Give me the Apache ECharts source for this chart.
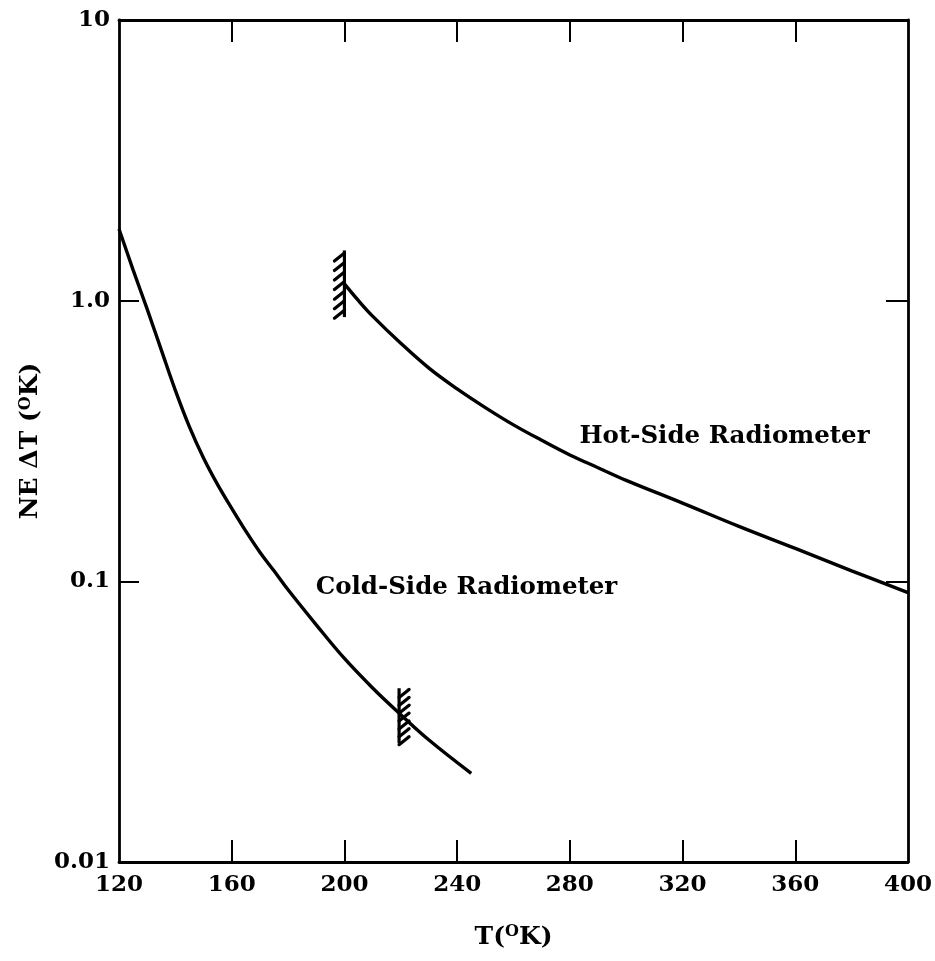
<!DOCTYPE html>
<html>
<head>
<meta charset="utf-8">
<title>NE ΔT vs T</title>
<script src="https://cdn.jsdelivr.net/npm/echarts@6/dist/echarts.min.js"></script>
<style>
  html, body { margin: 0; padding: 0; background: #fff; }
  #chart { width: 935px; height: 961px; }
</style>
</head>
<body>
<div id="chart"></div>
<script>
// Noise-equivalent temperature difference of the two radiometers
const tempCold = [120, 125, 130, 135, 140, 145, 150, 155, 160, 165, 170, 175, 180, 190, 200, 210, 220, 230, 245];
const netdCold = [1.80, 1.288, 0.933, 0.668, 0.479, 0.355, 0.275, 0.221, 0.182, 0.151, 0.127, 0.109, 0.0933, 0.070, 0.0531, 0.0417, 0.0335, 0.0272, 0.0207];

const tempHot = [200, 205, 210, 220, 230, 240, 250, 260, 270, 280, 290, 300, 320, 340, 360, 380, 400];
const netdHot = [1.148, 1.0, 0.881, 0.705, 0.575, 0.485, 0.416, 0.361, 0.318, 0.282, 0.254, 0.229, 0.190, 0.157, 0.131, 0.109, 0.0912];

// Hatched limit markers: [T, lower NE ΔT, upper NE ΔT, side (-1 left, +1 right)]
const limitMarks = [
  [200, 0.874, 1.51, -1],
  [219.4, 0.0265, 0.0416, 1]
];

// Curve labels: [T, NE ΔT, text]
const curveLabels = [
  [189.8, 0.0946, 'Cold-Side Radiometer'],
  [283.4, 0.327, 'Hot-Side Radiometer']
];

const xTicks = [120, 160, 200, 240, 280, 320, 360, 400];
const yTickText = { 0.01: '0.01', 0.1: '0.1', 1: '1.0', 10: '10' };

const serif = 'DejaVu Serif';
const ink = '#000';

function pairs(xs, ys) { return xs.map((x, i) => [x, ys[i]]); }

const chart = echarts.init(document.getElementById('chart'), null, { renderer: 'canvas' });

const axisLineStyle = { lineStyle: { color: ink, width: 2.8 } };

chart.setOption({
  backgroundColor: '#fff',
  animation: false,
  grid: { left: 119, right: 25, top: 20, bottom: 99, containLabel: false },
  xAxis: [
    {
      type: 'value', position: 'bottom', min: 120, max: 400, interval: 40,
      axisLine: axisLineStyle,
      axisTick: { inside: true, length: 22, lineStyle: { color: ink, width: 2 },
                  customValues: xTicks.slice(1, -1) },
      axisLabel: { color: ink, fontFamily: serif, fontWeight: 'bold', fontSize: 23, margin: 12,
                   customValues: xTicks },
      splitLine: { show: false },
      name: '{a|T(}{sup|O}{a|K)}', nameLocation: 'middle', nameGap: 62,
      nameTextStyle: {
        rich: {
          a: { fontFamily: serif, fontWeight: 'bold', fontSize: 25, color: ink },
          sup: { fontFamily: serif, fontWeight: 'bold', fontSize: 16, color: ink, verticalAlign: 'top', padding: [0, 0, 10, 0] }
        }
      }
    },
    {
      type: 'value', position: 'top', min: 120, max: 400, interval: 40,
      axisLine: axisLineStyle,
      axisTick: { inside: true, length: 22, lineStyle: { color: ink, width: 2 },
                  customValues: xTicks.slice(1, -1) },
      axisLabel: { show: false },
      splitLine: { show: false }
    }
  ],
  yAxis: [
    {
      type: 'log', logBase: 10, min: 0.01, max: 10, position: 'left',
      axisLine: axisLineStyle,
      axisTick: { inside: true, length: 20, lineStyle: { color: ink, width: 2 }, customValues: [0.1, 1] },
      axisLabel: { color: ink, fontFamily: serif, fontWeight: 'bold', fontSize: 23, margin: 9,
                   customValues: [0.01, 0.1, 1, 10],
                   formatter: v => yTickText[+v.toPrecision(3)] || String(v) },
      splitLine: { show: false },
      minorTick: { show: false },
      name: '{a|NE ΔT (}{sup|O}{a|K)}', nameLocation: 'middle', nameGap: 75, nameRotate: 90,
      nameTextStyle: {
        rich: {
          a: { fontFamily: serif, fontWeight: 'bold', fontSize: 25, color: ink },
          sup: { fontFamily: serif, fontWeight: 'bold', fontSize: 16, color: ink, verticalAlign: 'top', padding: [0, 0, 10, 0] }
        }
      }
    },
    {
      type: 'log', logBase: 10, min: 0.01, max: 10, position: 'right',
      axisLine: axisLineStyle,
      axisTick: { inside: true, length: 22, lineStyle: { color: ink, width: 2 }, customValues: [0.1, 1] },
      axisLabel: { show: false },
      splitLine: { show: false }
    }
  ],
  series: [
    {
      name: 'Cold-Side Radiometer', type: 'line', smooth: 0.4, showSymbol: false,
      data: pairs(tempCold, netdCold),
      lineStyle: { color: ink, width: 3.4 }
    },
    {
      name: 'Hot-Side Radiometer', type: 'line', smooth: 0.4, showSymbol: false,
      data: pairs(tempHot, netdHot),
      lineStyle: { color: ink, width: 3.4 }
    },
    {
      name: 'limits', type: 'custom',
      data: limitMarks,
      renderItem: function (params, api) {
        const t = api.value(0), lo = api.value(1), hi = api.value(2), side = api.value(3);
        const top = api.coord([t, hi]);
        const bot = api.coord([t, lo]);
        const x = top[0];
        const children = [{
          type: 'line',
          shape: { x1: x, y1: top[1], x2: x, y2: bot[1] },
          style: { stroke: ink, lineWidth: 3.2 }
        }];
        const n = 7;
        const step = (bot[1] - top[1]) / n;
        for (let i = 0; i < n; i++) {
          const y = top[1] + step * (i + 0.8);
          const x1 = side > 0 ? x : x - 10;
          children.push({
            type: 'line',
            shape: { x1: x1, y1: y + 3, x2: x1 + 10, y2: y - 5 },
            style: { stroke: ink, lineWidth: 3.2, lineCap: 'round' }
          });
        }
        return { type: 'group', children: children };
      },
      silent: true, z: 5
    },
    {
      name: 'curve labels', type: 'custom',
      data: curveLabels,
      renderItem: function (params, api) {
        const p = api.coord([api.value(0), api.value(1)]);
        return {
          type: 'text', x: p[0], y: p[1],
          style: {
            text: curveLabels[params.dataIndex][2],
            fill: ink, font: 'bold 24.5px "DejaVu Serif"',
            textAlign: 'left', textVerticalAlign: 'middle'
          }
        };
      },
      silent: true
    }
  ]
});
</script>
</body>
</html>
